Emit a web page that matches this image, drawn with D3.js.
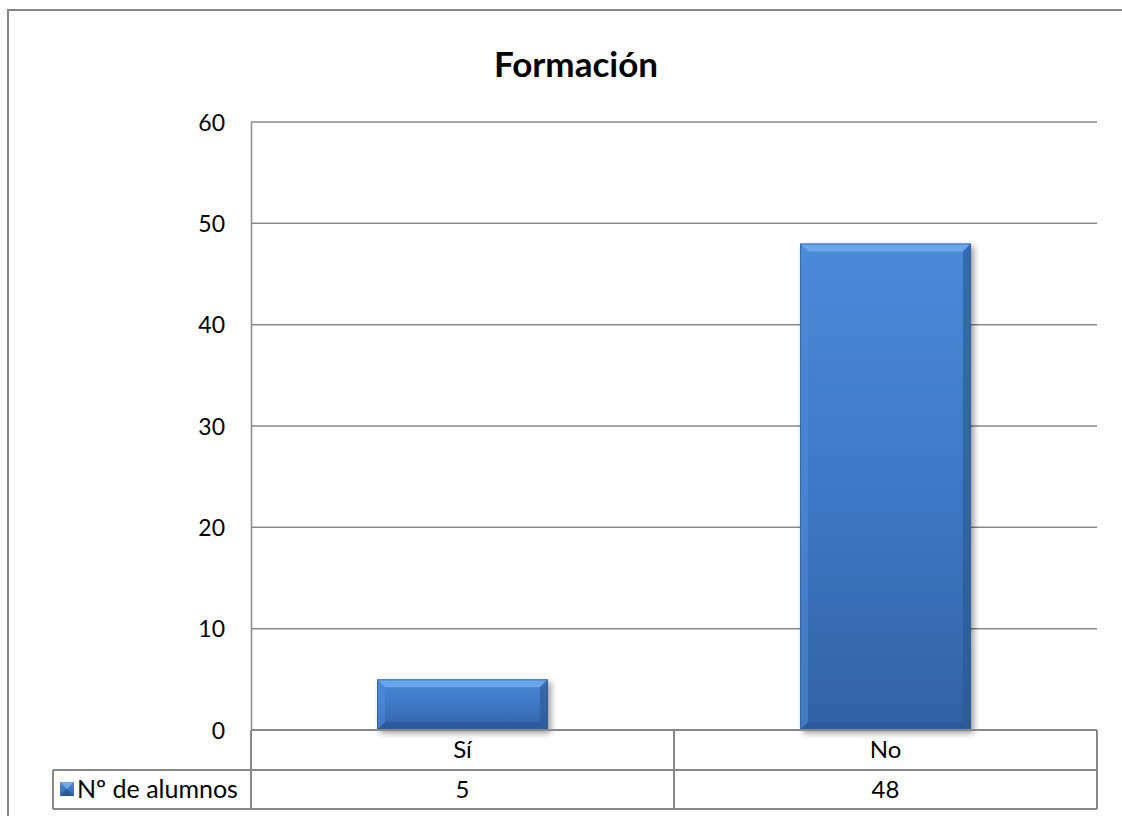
<!DOCTYPE html>
<html>
<head>
<meta charset="utf-8">
<script src="https://cdn.jsdelivr.net/npm/d3@7/dist/d3.min.js"></script>
<style>
  html, body { margin: 0; padding: 0; background: #ffffff; overflow: hidden; }
  svg { display: block; font-family: Lato, "Open Sans", "Liberation Sans", sans-serif; }
</style>
</head>
<body>
<svg id="chart" width="1122" height="816"></svg>
<script>
// Chart data
const title = "Formación";
const seriesName = "Nº de alumnos";
const categories = ["Sí", "No"];
const values = [5, 48];
const yTicks = [0, 10, 20, 30, 40, 50, 60];

const svg = d3.select("#chart");
const W = 1122, H = 816;
const plot = { left: 251, right: 1097, top: 122, bottom: 730 };
const rowH = 39;
const legendLeft = 53;
const lineColor = "#888888";
const fontSize = 24;

// Outer chart frame (continues past the right and bottom of the page)
svg.append("path")
  .attr("d", `M8,${H}L8,10L${W},10`)
  .attr("fill", "none")
  .attr("stroke", "#868686").attr("stroke-width", 2);

// Title
svg.append("text")
  .attr("x", 576).attr("y", 77)
  .attr("text-anchor", "middle")
  .attr("font-size", 35).attr("font-weight", "bold")
  .attr("fill", "#000")
  .text(title);

const x = d3.scaleBand().domain(categories).range([plot.left, plot.right]).padding(0);
const y = d3.scaleLinear().domain([0, 60]).range([plot.bottom, plot.top]);

// Gridlines
svg.append("g").selectAll("line").data(yTicks.filter(d => d > 0)).join("line")
  .attr("x1", plot.left).attr("x2", plot.right)
  .attr("y1", d => y(d)).attr("y2", d => y(d))
  .attr("stroke", lineColor).attr("stroke-width", 1.5);

// Y axis
const yAxis = d3.axisLeft(y).tickValues(yTicks).tickSize(0).tickPadding(26);
const gy = svg.append("g").attr("transform", `translate(${plot.left},0)`).call(yAxis);
gy.select(".domain").attr("stroke", lineColor).attr("stroke-width", 1.5);
gy.selectAll("text").attr("font-size", fontSize - 1).attr("fill", "#000")
  .attr("font-family", "Lato, 'Open Sans', sans-serif").attr("dy", "0.36em");

// Defs: gradients and shadow
const defs = svg.append("defs");
const grad = defs.append("linearGradient").attr("id", "barFill").attr("x1", 0).attr("y1", 0).attr("x2", 0).attr("y2", 1);
grad.append("stop").attr("offset", "0%").attr("stop-color", "#4a8ad9");
grad.append("stop").attr("offset", "50%").attr("stop-color", "#3e78c4");
grad.append("stop").attr("offset", "100%").attr("stop-color", "#3262a6");

const f = defs.append("filter").attr("id", "shadow").attr("x", "-10%").attr("y", "-10%").attr("width", "130%").attr("height", "130%");
f.append("feGaussianBlur").attr("in", "SourceAlpha").attr("stdDeviation", 3);
f.append("feOffset").attr("dx", 3).attr("dy", 3).attr("result", "b");
f.append("feComponentTransfer").append("feFuncA").attr("type", "linear").attr("slope", 0.4);
const fm = f.append("feMerge");
fm.append("feMergeNode");
fm.append("feMergeNode").attr("in", "SourceGraphic");

// Bars with bevelled edges
const barFrac = 0.404;
const bev = 8;
svg.append("g").selectAll("g").data(categories.map((c, i) => ({ c, v: values[i] }))).join("g")
  .attr("filter", "url(#shadow)")
  .each(function (d) {
    const g = d3.select(this);
    const bw = x.bandwidth() * barFrac;
    const x0 = x(d.c) + (x.bandwidth() - bw) / 2, x1 = x0 + bw;
    const y0 = y(d.v), y1 = y(0);
    g.append("rect").attr("x", x0).attr("y", y0).attr("width", bw).attr("height", y1 - y0)
      .attr("fill", "url(#barFill)");
    // top bevel
    g.append("path").attr("d", `M${x0},${y0}L${x1},${y0}L${x1 - bev},${y0 + bev}L${x0 + bev},${y0 + bev}Z`)
      .attr("fill", "#6fa9ec").attr("opacity", 0.9);
    // left bevel
    g.append("path").attr("d", `M${x0},${y0}L${x0 + bev},${y0 + bev}L${x0 + bev},${y1 - bev}L${x0},${y1}Z`)
      .attr("fill", "#4f8ad6").attr("opacity", 0.6);
    // right bevel
    g.append("path").attr("d", `M${x1},${y0}L${x1},${y1}L${x1 - bev},${y1 - bev}L${x1 - bev},${y0 + bev}Z`)
      .attr("fill", "#2a568f").attr("opacity", 0.6);
    // bottom bevel
    g.append("path").attr("d", `M${x0},${y1}L${x1},${y1}L${x1 - bev},${y1 - bev}L${x0 + bev},${y1 - bev}Z`)
      .attr("fill", "#2b5a98").attr("opacity", 0.8);
    g.append("rect").attr("x", x0 + 0.5).attr("y", y0 + 0.5).attr("width", bw - 1).attr("height", y1 - y0 - 1)
      .attr("fill", "none").attr("stroke", "#2d5b9a").attr("stroke-width", 1).attr("opacity", 0.7);
  });

// Data table under the plot
const tRow1 = plot.bottom, tRow2 = plot.bottom + rowH + 1, tEnd = tRow2 + rowH;
const tbl = svg.append("g");
tbl.append("line").attr("x1", plot.left).attr("x2", plot.right).attr("y1", tRow1).attr("y2", tRow1)
  .attr("stroke", lineColor).attr("stroke-width", 2);
[tRow2, tEnd].forEach(yy => tbl.append("line").attr("x1", legendLeft).attr("x2", plot.right)
  .attr("y1", yy).attr("y2", yy).attr("stroke", lineColor).attr("stroke-width", 2));
tbl.append("line").attr("x1", legendLeft).attr("x2", legendLeft).attr("y1", tRow2).attr("y2", tEnd)
  .attr("stroke", lineColor).attr("stroke-width", 2);
const vx = [plot.left, ...categories.slice(1).map(c => x(c)), plot.right];
vx.forEach(xx => tbl.append("line").attr("x1", xx).attr("x2", xx).attr("y1", tRow1).attr("y2", tEnd)
  .attr("stroke", lineColor).attr("stroke-width", 2));

tbl.selectAll("text.cat").data(categories).join("text").attr("class", "cat")
  .attr("x", d => x(d) + x.bandwidth() / 2).attr("y", tRow1 + 28)
  .attr("text-anchor", "middle").attr("font-size", fontSize).text(d => d);
tbl.selectAll("text.val").data(values).join("text").attr("class", "val")
  .attr("x", (d, i) => x(categories[i]) + x.bandwidth() / 2).attr("y", tRow2 + 28)
  .attr("text-anchor", "middle").attr("font-size", fontSize).text(d => d);

// Legend key and series name
const kx = 60, ky = tRow2 + 12, ks = 14;
const key = tbl.append("g");
key.append("rect").attr("x", kx).attr("y", ky).attr("width", ks).attr("height", ks).attr("fill", "url(#barFill)");
key.append("path").attr("d", `M${kx},${ky}L${kx + ks},${ky}L${kx + ks / 2},${ky + ks / 2}Z`).attr("fill", "#6fa9ec");
key.append("path").attr("d", `M${kx},${ky + ks}L${kx + ks},${ky + ks}L${kx + ks / 2},${ky + ks / 2}Z`).attr("fill", "#2b5a98");
tbl.append("text").attr("x", 77).attr("y", tRow2 + 28).attr("font-size", fontSize + 1)
  .text(seriesName);
</script>
</body>
</html>
